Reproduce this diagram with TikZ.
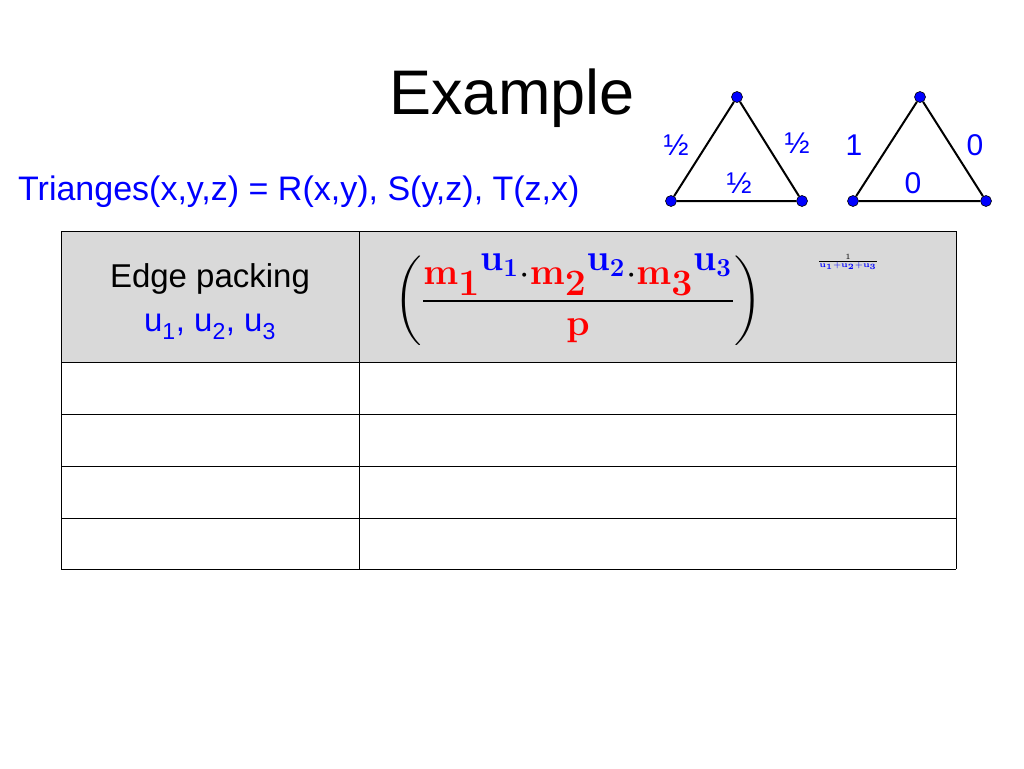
\documentclass[tikz,border=0pt]{standalone}
\usepackage{amsmath}
\usepackage{graphicx}
\usepackage[no-math]{fontspec}
\setmainfont{Liberation Sans}
\begin{document}
\begin{tikzpicture}[x=1pt,y=-1pt,
  vdot/.style={circle,fill=blue,draw=black,line width=0.6pt,inner sep=0pt,minimum size=11pt},
  edge/.style={line width=2pt},
  lbl/.style={text=blue,font=\fontsize{30}{34}\selectfont},
  cell/.style={draw=black,line width=0.8pt}]
\useasboundingbox (0,0) rectangle (1024,768);
\node (title) at (512,98) {\fontsize{63}{70}\selectfont Example};
\node[text=blue,anchor=west,inner sep=0pt] (q) at (18,192) {\fontsize{34}{38}\selectfont Trianges(x,y,z) = R(x,y), S(y,z), T(z,x)};
% triangle 1
\node[vdot] (a1) at (737,97) {};
\node[vdot] (b1) at (671,201) {};
\node[vdot] (c1) at (802,201) {};
\draw[edge] (a1)--(b1)--(c1)--(a1);
\node[lbl] (l1) at (676,145) {½};
\node[lbl] (l2) at (797,143) {½};
\node[lbl] (l3) at (739,183) {½};
% triangle 2
\node[vdot] (a2) at (920,97) {};
\node[vdot] (b2) at (853,201) {};
\node[vdot] (c2) at (986,201) {};
\draw[edge] (a2)--(b2)--(c2)--(a2);
\node[lbl] (k1) at (854,145) {1};
\node[lbl] (k2) at (975,145) {0};
\node[lbl] (k3) at (913,183) {0};
% table
\fill[gray!30] (61,231) rectangle (956,362);
\foreach \y in {231,362,414,466,518} \draw[cell] (61,\y) -- (956,\y);
\draw[cell] (61,569) -- (956,569);
\draw[cell] (61,231) -- (61,569);
\draw[cell] (359,231) -- (359,569);
\draw[cell] (956,231) -- (956,569);
\node (ep) at (210,279) {\fontsize{33}{38}\selectfont Edge packing};
\node[text=blue] (uu) at (210,327) {\fontsize{33}{38}\selectfont u\textsubscript{1}, u\textsubscript{2}, u\textsubscript{3}};
\node (f) at (578,300) {\scalebox{1.5}{\fontsize{34}{40}\selectfont $\left(\dfrac{\color{red}\mathbf{m_1}^{\color{blue}\mathbf{u_1}}{\color{black}\cdot}\mathbf{m_2}^{\color{blue}\mathbf{u_2}}{\color{black}\cdot}\mathbf{m_3}^{\color{blue}\mathbf{u_3}}}{\color{red}\mathbf{p}}\right)$}};
\node (e) at (848,262) {\scalebox{1.6}{$\scriptstyle\frac{1}{\color{blue}\mathbf{u_1+u_2+u_3}}$}};
\end{tikzpicture}
\end{document}
